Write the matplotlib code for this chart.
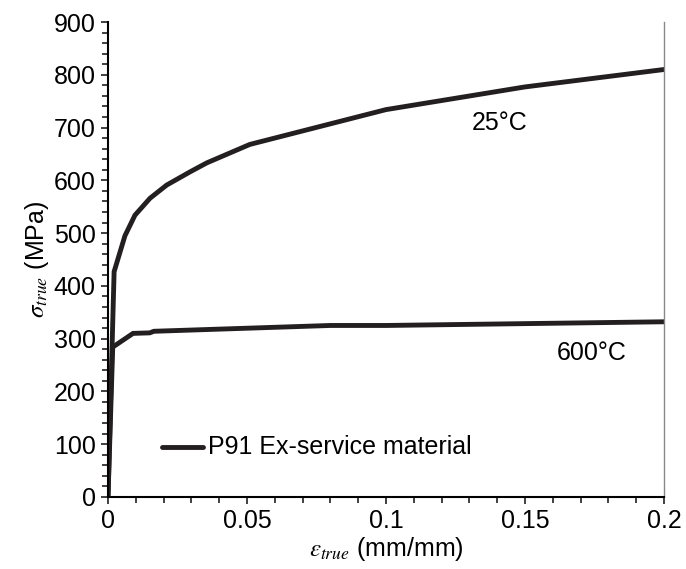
import matplotlib
matplotlib.use("Agg")
import matplotlib.pyplot as plt
from matplotlib.ticker import MultipleLocator

plt.rcParams['font.family'] = ['Liberation Sans', 'DejaVu Sans']
plt.rcParams['mathtext.fontset'] = 'stix'

# true stress-strain, P91 ex-service
strain_25 = [0, 0.0022, 0.0061, 0.0097, 0.0151, 0.0211, 0.0295, 0.0355, 0.051, 0.1, 0.15, 0.2]
stress_25 = [0, 427, 495, 534, 566, 591, 616, 633, 668, 734, 777, 810]

strain_600 = [0, 0.0017, 0.009, 0.015, 0.0165, 0.08, 0.1, 0.2]
stress_600 = [0, 284, 310, 311, 314, 325, 325, 332]

line_col = '#231f20'
fs = 18

fig = plt.figure(figsize=(6.86, 5.69), dpi=100)
ax = fig.add_axes([108/686, 1 - 497/569, 556/686, 475/569])

ax.plot(strain_25, stress_25, color=line_col, lw=3.5, solid_joinstyle='miter')
ax.plot(strain_600, stress_600, color=line_col, lw=3.5, solid_joinstyle='miter')

ax.set_xlim(0, 0.2)
ax.set_ylim(0, 900)
ax.set_xticks([0, 0.05, 0.1, 0.15, 0.2])
ax.set_xticklabels(['0', '0.05', '0.1', '0.15', '0.2'])
ax.xaxis.set_minor_locator(MultipleLocator(0.01))
ax.yaxis.set_major_locator(MultipleLocator(100))
ax.yaxis.set_minor_locator(MultipleLocator(20))
ax.tick_params(which='both', direction='out', length=5, width=1.2, labelsize=fs,
               color=line_col, pad=4)
ax.tick_params(which='minor', length=4)

ax.spines['top'].set_visible(False)
ax.spines['left'].set_linewidth(1.5)
ax.spines['bottom'].set_linewidth(1.5)
ax.spines['right'].set_linewidth(1.0)
ax.spines['right'].set_color('#888888')

ax.set_xlabel(r'$\varepsilon_{true}$ (mm/mm)', fontsize=fs, labelpad=1)
ax.set_ylabel(r'$\sigma_{true}$ (MPa)', fontsize=fs, labelpad=2)

ax.text(0.141, 709, '25°C', fontsize=fs, ha='center', va='center')
ax.text(0.174, 273, '600°C', fontsize=fs, ha='center', va='center')

ax.plot([0.0195, 0.034], [94, 94], color=line_col, lw=3.5, solid_capstyle='round')
ax.text(0.0358, 94, 'P91 Ex-service material', fontsize=fs, ha='left', va='center')

fig.savefig('out.png', dpi=100)
